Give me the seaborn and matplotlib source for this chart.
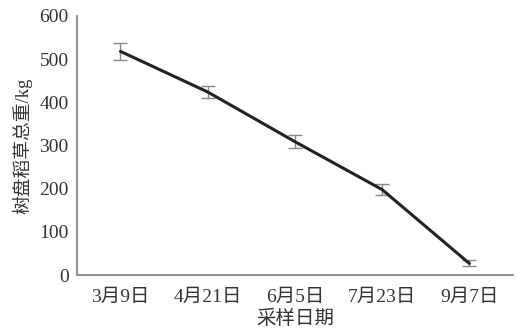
import matplotlib
matplotlib.use("Agg")
import matplotlib.pyplot as plt
import seaborn as sns
import pandas as pd

dates = ["3月9日", "4月21日", "6月5日", "7月23日", "9月7日"]
weights = [518, 424, 309, 198, 27]
errors = [20, 15, 15, 12, 7]
yticks = [0, 100, 200, 300, 400, 500, 600]

sns.set_style("white")
plt.rcParams['font.family'] = ['Liberation Serif', 'Noto Sans CJK SC']

df = pd.DataFrame({"x": range(len(dates)), "weight": weights})

fig = plt.figure(figsize=(5.16, 3.33), dpi=100)
ax = fig.add_axes([0.149, 0.174, 0.845, 0.778])

ax.errorbar(df["x"], df["weight"], yerr=errors, fmt="none", ecolor="#888888",
            elinewidth=1.0, capsize=5, capthick=1.0, zorder=2)
sns.lineplot(data=df, x="x", y="weight", ax=ax, color="#222222", linewidth=2.2, zorder=3)

ax.set_xlim(-0.5, 4.5)
ax.set_ylim(0, 600)
ax.set_xticks(range(len(dates)))
ax.set_xticklabels(dates)
ax.set_yticks(yticks)
ax.set_yticklabels([str(v) for v in yticks])

for s in ["top", "right"]:
    ax.spines[s].set_visible(False)
for s in ["left", "bottom"]:
    ax.spines[s].set_color("#888888")
    ax.spines[s].set_linewidth(1.3)

ax.tick_params(axis="both", direction="in", length=5, width=1, color="#888888",
               labelsize=14, labelcolor="#333333")
ax.tick_params(axis="x", pad=10)
ax.tick_params(axis="y", pad=6)
ax.set_xlabel("采样日期", fontsize=14, color="#333333", labelpad=3)
ax.set_ylabel("树盘稻草总重/kg", fontsize=13.5, color="#333333", labelpad=5)

fig.savefig("out.png", dpi=100)
